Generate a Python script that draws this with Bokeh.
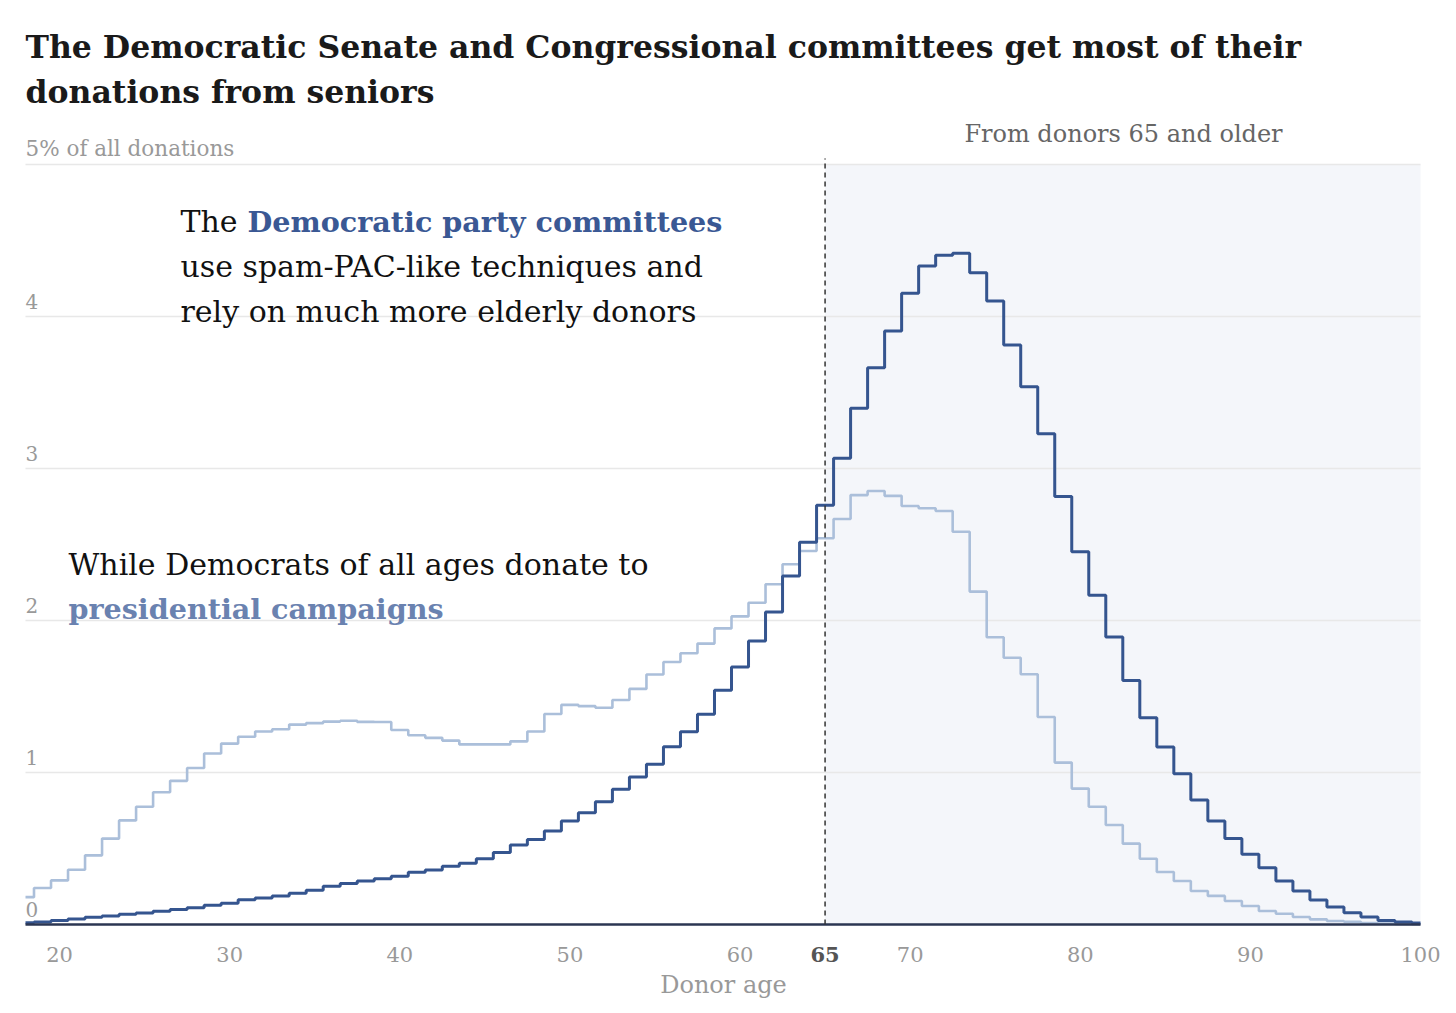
from bokeh.plotting import figure
from bokeh.models import Range1d
from bokeh.core.properties import value
from bokeh.embed import file_html
from bokeh.resources import INLINE

# ---------------- data ----------------
ages = list(range(18, 101))
presidential = [
    0.18, 0.24, 0.29, 0.36, 0.455, 0.565, 0.685, 0.775, 0.87, 0.945,   # 18-27
    1.03, 1.125, 1.19, 1.235, 1.27, 1.285, 1.315, 1.325, 1.335, 1.34,  # 28-37
    1.333, 1.332, 1.28, 1.245, 1.228, 1.21, 1.185, 1.185, 1.185, 1.205,  # 38-47
    1.27, 1.385, 1.445, 1.437, 1.426, 1.477, 1.55, 1.645, 1.727, 1.785,  # 48-57
    1.848, 1.948, 2.027, 2.117, 2.238, 2.37, 2.457, 2.541, 2.668, 2.825,  # 58-67
    2.852, 2.82, 2.753, 2.738, 2.72, 2.584, 2.19, 1.89, 1.755, 1.646,  # 68-77
    1.365, 1.065, 0.894, 0.775, 0.655, 0.532, 0.433, 0.345, 0.286, 0.22,  # 78-87
    0.188, 0.155, 0.122, 0.089, 0.071, 0.049, 0.034, 0.023, 0.018, 0.01,  # 88-97
    0.006, 0.004, 0.002,  # 98-100
]
party = [
    0.012, 0.017, 0.027, 0.036, 0.047, 0.056, 0.067, 0.076, 0.087, 0.098,  # 18-27
    0.11, 0.126, 0.139, 0.163, 0.174, 0.187, 0.205, 0.225, 0.251, 0.27,  # 28-37
    0.286, 0.301, 0.317, 0.343, 0.359, 0.383, 0.403, 0.433, 0.473, 0.523,  # 38-47
    0.56, 0.615, 0.681, 0.736, 0.808, 0.889, 0.97, 1.054, 1.17, 1.268,  # 48-57
    1.383, 1.541, 1.694, 1.865, 2.056, 2.293, 2.514, 2.758, 3.067, 3.396,  # 58-67
    3.663, 3.905, 4.153, 4.332, 4.403, 4.416, 4.288, 4.102, 3.813, 3.538,  # 68-77
    3.229, 2.815, 2.453, 2.166, 1.891, 1.606, 1.361, 1.168, 0.992, 0.819,  # 78-87
    0.681, 0.565, 0.462, 0.374, 0.286, 0.22, 0.161, 0.115, 0.078, 0.049,  # 88-97
    0.027, 0.016, 0.01,  # 98-100
]
x_ticks = [20, 30, 40, 50, 60, 70, 80, 90, 100]
x_tick_labels = ["20", "30", "40", "50", "60", "70", "80", "90", "100"]
y_ticks = [0, 1, 2, 3, 4]
y_tick_labels = ["0", "1", "2", "3", "4"]
grid_values = [1, 2, 3, 4, 5]
y_top = 5
y_top_label = "5% of all donations"
threshold_age = 65
threshold_label = "65"
shade_label = "From donors 65 and older"
x_label = "Donor age"
title_lines = [
    "The Democratic Senate and Congressional committees get most of their",
    "donations from seniors",
]

# ---------------- layout ----------------
SERIF = "DejaVu Serif"
W, H = 1448, 1005
PLOT_L, PLOT_R = 25, 1420        # pixel columns of age 18 and age 100
ZERO_Y = 924                     # pixel row of value 0
PX_Y = 152.0                     # pixels per percentage point
PX_X = (PLOT_R - PLOT_L) / (ages[-1] - ages[0])
BASE_SHIFT = 0.375               # svg backend draws alphabetic baseline this many em lower


def yd(py):
    return (ZERO_Y - py) / PX_Y


def xd(px):
    return ages[0] + (px - PLOT_L) / PX_X


def ybase(py, size):
    """data y that puts a text baseline at pixel row py"""
    return yd(py - BASE_SHIFT * size)


p = figure(width=W, height=H, output_backend="svg", toolbar_location=None,
           x_range=Range1d(xd(0), xd(W)), y_range=Range1d(yd(H), yd(0)),
           x_axis_location=None, y_axis_location=None, min_border=0)
p.outline_line_color = None
p.background_fill_color = "white"
p.border_fill_color = "white"
p.xgrid.visible = False
p.ygrid.visible = False

# shaded region for 65+
p.quad(left=[threshold_age], right=[ages[-1]], bottom=[0], top=[y_top],
       fill_color="#f4f6fa", line_color=None)

# horizontal gridlines
p.segment(x0=[ages[0]] * len(grid_values), x1=[ages[-1]] * len(grid_values),
          y0=grid_values, y1=grid_values, line_color="#e8e8e8", line_width=1.5)

# steps
p.step(ages, presidential, mode="center", line_color="#abbfda", line_width=2.6)
p.step(ages, party, mode="center", line_color="#35558f", line_width=3)

# baseline
p.segment(x0=[ages[0]], y0=[0], x1=[ages[-1]], y1=[0],
          line_color="#2b3652", line_width=2.5)

# threshold dashed line
p.segment(x0=[threshold_age], y0=[0], x1=[threshold_age], y1=[y_top + 6 / PX_Y],
          line_color="#333333", line_width=1.5, line_dash="5 4")

# y tick labels inside plot (baseline 8px above each gridline)
p.text(x=[ages[0]] * len(y_ticks),
       y=[t + (8 + BASE_SHIFT * 20) / PX_Y for t in y_ticks],
       text=y_tick_labels, text_font=value(SERIF), text_font_size="20px",
       text_color="#999999", text_align="left", text_baseline="alphabetic")
p.text(x=[ages[0]], y=[ybase(156, 21.5)], text=[y_top_label], text_font=value(SERIF),
       text_font_size="21.5px", text_color="#999999", text_align="left",
       text_baseline="alphabetic")

# x tick labels
p.text(x=x_ticks, y=[ybase(962, 21)] * len(x_ticks), text=x_tick_labels,
       text_font=value(SERIF), text_font_size="21px", text_color="#999999",
       text_align="center", text_baseline="alphabetic")
p.text(x=[threshold_age], y=[ybase(962, 21)], text=[threshold_label],
       text_font=value(SERIF), text_font_size="21px", text_font_style="bold",
       text_color="#555555", text_align="center", text_baseline="alphabetic")
p.text(x=[xd(723)], y=[ybase(993, 24)], text=[x_label], text_font=value(SERIF),
       text_font_size="24px", text_color="#999999", text_align="center",
       text_baseline="alphabetic")

# shaded region label
p.text(x=[xd(1123)], y=[ybase(142, 24)], text=[shade_label], text_font=value(SERIF),
       text_font_size="24px", text_color="#666666", text_align="center",
       text_baseline="alphabetic")

# title
p.text(x=[xd(25)] * 2, y=[ybase(58, 31.5), ybase(103, 31.5)], text=title_lines,
       text_font=value(SERIF), text_font_size="31.5px", text_font_style="bold",
       text_color="#1a1a1a", text_align="left", text_baseline="alphabetic")

# annotation: party committees
ANN, ANN_PX = "30px", 30
ANN_B, ANN_B_PX = "28.6px", 28.6
p.text(x=[xd(180)], y=[ybase(232, ANN_PX)], text=["The"], text_font=value(SERIF),
       text_font_size=ANN, text_color="#111111", text_baseline="alphabetic")
p.text(x=[xd(247)], y=[ybase(232, ANN_B_PX)], text=["Democratic party committees"],
       text_font=value(SERIF), text_font_size=ANN_B, text_font_style="bold",
       text_color="#3a5894", text_baseline="alphabetic")
p.text(x=[xd(180)] * 2, y=[ybase(277, ANN_PX), ybase(322, ANN_PX)],
       text=["use spam-PAC-like techniques and", "rely on much more elderly donors"],
       text_font=value(SERIF), text_font_size=ANN, text_color="#111111",
       text_baseline="alphabetic")

# annotation: presidential campaigns
p.text(x=[xd(68)], y=[ybase(575, ANN_PX)], text=["While Democrats of all ages donate to"],
       text_font=value(SERIF), text_font_size=ANN, text_color="#111111",
       text_baseline="alphabetic")
p.text(x=[xd(68)], y=[ybase(619, ANN_B_PX)], text=["presidential campaigns"],
       text_font=value(SERIF), text_font_size=ANN_B, text_font_style="bold",
       text_color="#6a82b0", text_baseline="alphabetic")

open("out.html", "w").write(file_html(p, INLINE))
